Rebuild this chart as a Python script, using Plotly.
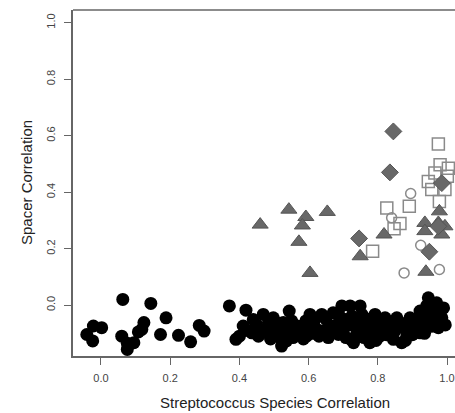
import plotly.graph_objects as go

# Black filled circles (bulk of pairs)
black_x = [-0.041, -0.022, 0.002, -0.024, 0.063, 0.060, 0.076, 0.076, 0.095, 0.108, 0.124, 0.118,
           0.144, 0.188, 0.172, 0.224, 0.259, 0.284, 0.298, 0.371, 0.419,
           0.390, 0.411, 0.440, 0.469, 0.484, 0.498, 0.460, 0.436, 0.508, 0.527, 0.544, 0.551,
           0.517, 0.522, 0.536, 0.565, 0.580, 0.604, 0.638, 0.592, 0.662, 0.671, 0.657, 0.696,
           0.720, 0.749, 0.705, 0.686, 0.725, 0.754, 0.730, 0.708, 0.768, 0.792, 0.787, 0.821,
           0.806, 0.835, 0.864, 0.869, 0.845, 0.893, 0.903, 0.922, 0.946, 0.970, 0.941, 0.960,
           0.980, 0.922, 0.884, 0.777, 0.594, 0.624,
           0.400, 0.425, 0.450, 0.455, 0.475, 0.490, 0.500, 0.505, 0.520, 0.530, 0.545, 0.555,
           0.560, 0.575, 0.585, 0.600, 0.610, 0.615, 0.630, 0.645, 0.650, 0.665, 0.680, 0.690,
           0.700, 0.715, 0.720, 0.735, 0.740, 0.755, 0.760, 0.775, 0.780, 0.795, 0.800, 0.810,
           0.825, 0.830, 0.850, 0.855, 0.875, 0.880, 0.890, 0.900, 0.910, 0.915, 0.930, 0.935,
           0.950, 0.955, 0.965, 0.975, 0.985, 0.990, 0.995, 0.960]
black_y = [-0.104, -0.074, -0.080, -0.127, 0.020, -0.110, -0.135, -0.157, -0.133, -0.095, -0.062, -0.086,
           0.006, -0.045, -0.104, -0.107, -0.130, -0.072, -0.092, -0.003, -0.018,
           -0.121, -0.074, -0.051, -0.033, -0.062, -0.045, -0.086, -0.098, -0.080, -0.062, -0.021, -0.056,
           -0.115, -0.145, -0.127, -0.098, -0.074, -0.033, -0.033, -0.056, -0.074, -0.027, -0.115, -0.003,
           -0.003, -0.003, -0.051, -0.104, -0.039, -0.033, -0.133, -0.115, -0.086, -0.033, -0.074, -0.045,
           -0.110, -0.080, -0.062, -0.133, -0.121, -0.045, -0.086, -0.021, 0.026, 0.008, -0.003, -0.039,
           -0.062, -0.098, -0.110, -0.133, -0.110, -0.086,
           -0.110, -0.090, -0.070, -0.110, -0.095, -0.120, -0.100, -0.060, -0.090, -0.105, -0.080, -0.115,
           -0.070, -0.095, -0.120, -0.080, -0.100, -0.060, -0.110, -0.090, -0.050, -0.100, -0.070, -0.040,
           -0.090, -0.070, -0.120, -0.060, -0.095, -0.075, -0.115, -0.050, -0.095, -0.125, -0.065, -0.085,
           -0.105, -0.060, -0.090, -0.045, -0.080, -0.125, -0.065, -0.105, -0.050, -0.080, -0.060, -0.100,
           -0.040, -0.075, -0.020, -0.080, -0.045, -0.010, -0.070, -0.005]

# Gray filled triangles
tri_x = [0.460, 0.543, 0.592, 0.582, 0.654, 0.572, 0.604, 0.749, 0.818,
         0.936, 0.978, 0.975, 0.936, 0.985, 0.994, 0.939]
tri_y = [0.285, 0.338, 0.312, 0.282, 0.330, 0.224, 0.114, 0.173, 0.250,
         0.291, 0.332, 0.291, 0.262, 0.250, 0.279, 0.118]

# Gray filled diamonds
dia_x = [0.746, 0.845, 0.835, 0.985, 0.975, 0.949]
dia_y = [0.236, 0.615, 0.470, 0.432, 0.279, 0.189]

# Open squares
sq_x = [0.785, 0.975, 0.980, 1.004, 1.001, 0.965, 0.946, 0.956, 0.994, 0.826, 0.891, 0.978, 0.864, 0.847]
sq_y = [0.191, 0.570, 0.497, 0.485, 0.456, 0.468, 0.438, 0.409, 0.409, 0.344, 0.350, 0.367, 0.289, 0.270]

# Open circles
oc_x = [0.895, 0.840, 0.924, 0.876, 0.978]
oc_y = [0.395, 0.309, 0.212, 0.114, 0.126]

x_ticks = [0.0, 0.2, 0.4, 0.6, 0.8, 1.0]
y_ticks = [0.0, 0.2, 0.4, 0.6, 0.8, 1.0]
tick_text = ["0.0", "0.2", "0.4", "0.6", "0.8", "1.0"]

fig = go.Figure()
fig.add_trace(go.Scatter(x=black_x, y=black_y, mode="markers",
                         marker=dict(symbol="circle", size=13, color="black", line=dict(width=0))))
fig.add_trace(go.Scatter(x=sq_x, y=sq_y, mode="markers",
                         marker=dict(symbol="square-open", size=12, color="#8a8a8a", line=dict(width=1.5))))
fig.add_trace(go.Scatter(x=oc_x, y=oc_y, mode="markers",
                         marker=dict(symbol="circle-open", size=10, color="#8a8a8a", line=dict(width=1.5))))
fig.add_trace(go.Scatter(x=tri_x, y=tri_y, mode="markers",
                         marker=dict(symbol="triangle-up", size=14, color="#686868",
                                     line=dict(width=1, color="#555555"))))
fig.add_trace(go.Scatter(x=dia_x, y=dia_y, mode="markers",
                         marker=dict(symbol="diamond", size=13, color="#686868",
                                     line=dict(width=1, color="#555555"))))

axis_font = dict(family="Liberation Sans, Arial, sans-serif", size=11, color="#444444")
fig.update_layout(
    width=455, height=413,
    margin=dict(l=73, r=0, t=10, b=57),
    plot_bgcolor="white", paper_bgcolor="white",
    showlegend=False,
    xaxis=dict(range=[-0.0809, 1.0231], tickvals=x_ticks, ticktext=tick_text,
               showgrid=False, zeroline=False, showline=True, linecolor="#666666", linewidth=1.5,
               ticks="outside", ticklen=7, tickcolor="#666666", tickwidth=1, tickfont=axis_font,
               ticklabelstandoff=4),
    yaxis=dict(range=[-0.1802, 1.0449], tickvals=y_ticks, ticktext=tick_text, tickangle=-90,
               showgrid=False, zeroline=False, showline=True, linecolor="#666666", linewidth=1.5,
               ticks="outside", ticklen=7, tickcolor="#666666", tickwidth=1, tickfont=axis_font,
               ticklabelstandoff=5),
    shapes=[dict(type="line", xref="paper", yref="paper", x0=0, x1=1, y0=1, y1=1,
                 line=dict(color="#666666", width=1.5))],
    annotations=[
        dict(text="Streptococcus Species Correlation", xref="paper", yref="paper",
             x=(275 - 73) / 382, y=-(403 - 356.7) / 346.3, xanchor="center", yanchor="middle",
             showarrow=False, font=dict(family="Liberation Sans, Arial, sans-serif", size=15, color="#222222")),
        dict(text="Spacer Correlation", xref="paper", yref="paper",
             x=-(73 - 26) / 382, y=0.5, xanchor="center", yanchor="middle", textangle=-90,
             showarrow=False, font=dict(family="Liberation Sans, Arial, sans-serif", size=15, color="#222222")),
    ],
)

fig.write_html("out.html", config={"displayModeBar": False},
               post_script="document.body.style.margin='0';")
